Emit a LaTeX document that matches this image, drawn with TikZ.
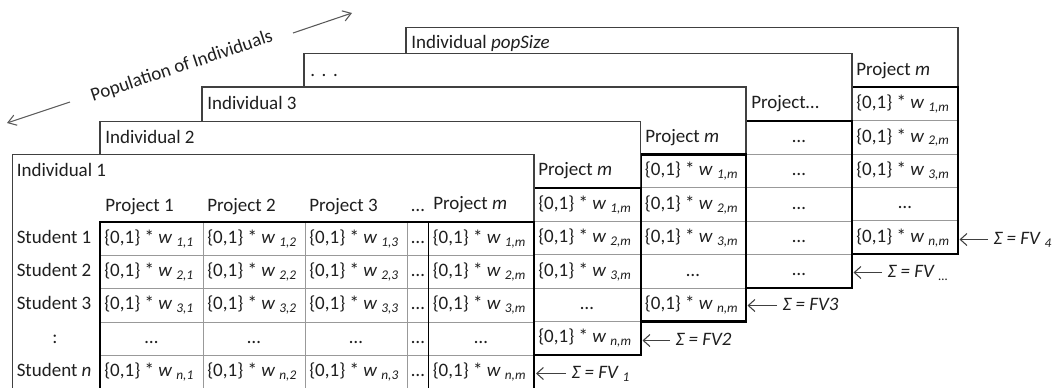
\documentclass[tikz,border=0pt]{standalone}
\usepackage{fontspec}
\setmainfont{Carlito}
\usetikzlibrary{arrows.meta}
\newcommand\wsub[1]{\textit{w}\hspace{0.22em}\textsubscript{\textit{#1}}}
\newcommand\cellw[1]{\{0,1\} * \wsub{#1}}
\newcommand\fvsub[1]{\textit{Σ = FV}\hspace{0.2em}\textsubscript{\textit{#1}}}
\begin{document}
\begin{tikzpicture}[x=0.75pt,y=-0.75pt,
  every node/.style={font=\fontsize{14.25pt}{17pt}\selectfont, inner sep=0pt,
    text height=10pt, text depth=3pt, text=black!88},
  lbl/.style={anchor=west},
  sumlbl/.style={anchor=west, inner xsep=4pt},
  frame/.style={draw=black!75, line width=0.8pt, fill=white},
  grid/.style={draw=black!40, line width=0.75pt},
  tbl/.style={draw=black, line width=1.6pt},
  sumarrow/.style={draw=black!75, line width=0.8pt, -{Straight Barb[length=5pt,width=9pt]}},
  poparrow/.style={draw=black!65, line width=0.8pt, -{Straight Barb[length=6pt,width=8pt]}}
]
\clip (0,0) rectangle (1053,387);

% ---- population label and arrows
\node[rotate=18.5] (pop) at (182,67) {Population of Individuals};
\coordinate (popLt) at (70,102);  \coordinate (popL) at (7,123);
\coordinate (popRt) at (293,33);  \coordinate (popR) at (352,13);
\draw[poparrow] (popLt) -- (popL);
\draw[poparrow] (popRt) -- (popR);

% ---- Layer 5: Individual popSize
\filldraw[frame] (406,27.3) rectangle (958,254.3);
\node[lbl] (i5) at (411,44) {Individual \textit{popSize}};
\node[lbl] (h5) at (856,70.5) {Project \textit{m}};
\foreach \y in {120.7,154.1,187.5,220.9} \draw[grid] (852,\y) -- (958,\y);
\draw[tbl] (852,87.3) rectangle (958,254.3);
\node[lbl] (e51) at (856,104) {\cellw{1,m}};
\node[lbl] (e52) at (856,137.4) {\cellw{2,m}};
\node[lbl] (e53) at (856,170.8) {\cellw{3,m}};
\node (e54) at (905,204.2) {…};
\node[lbl] (e55) at (856,237.6) {\cellw{n,m}};
\coordinate (t5) at (959.5,239.5);
\node[sumlbl] (f5) at (988,239.5) {\fvsub{4}};
\draw[sumarrow] (f5.west) -- (t5);

% ---- Layer 4: ...
\filldraw[frame] (304,53.5) rectangle (852,288);
\node[lbl] (i4) at (310,72) {.\hspace{0.35em}.\hspace{0.35em}.};
\node[lbl] (h4) at (751,104) {Project…};
\foreach \y in {154.4,187.8,221.2,254.6} \draw[grid] (746,\y) -- (852,\y);
\draw[tbl] (746,121) rectangle (852,288);
\node (e41) at (799,137.7) {…};
\node (e42) at (799,171.1) {…};
\node (e43) at (799,204.5) {…};
\node (e44) at (799,237.9) {…};
\node (e45) at (799,271.3) {…};
\coordinate (t4) at (853.5,272.5);
\node[sumlbl] (f4) at (882,272.5) {\fvsub{…}};
\draw[sumarrow] (f4.west) -- (t4);

% ---- Layer 3: Individual 3
\filldraw[frame] (202,87) rectangle (746,321.5);
\node[lbl] (i3) at (207,104.5) {Individual 3};
\node[lbl] (h3) at (645,137.5) {Project \textit{m}};
\foreach \y in {187.9,221.3,254.7,288.1} \draw[grid] (640.7,\y) -- (746,\y);
\draw[tbl] (640.7,154.5) rectangle (746,321.5);
\node[lbl] (e31) at (644.7,171.2) {\cellw{1,m}};
\node[lbl] (e32) at (644.7,204.6) {\cellw{2,m}};
\node[lbl] (e33) at (644.7,238) {\cellw{3,m}};
\node (e34) at (693,271.4) {…};
\node[lbl] (e35) at (644.7,304.8) {\cellw{n,m}};
\coordinate (t3) at (747.5,305.5);
\node[sumlbl] (f3) at (777,305.5) {\textit{Σ = FV3}};
\draw[sumarrow] (f3.west) -- (t3);

% ---- Layer 2: Individual 2
\filldraw[frame] (100,121.5) rectangle (640.7,355);
\node[lbl] (i2) at (105,138.5) {Individual 2};
\node[lbl] (h2) at (538,171) {Project \textit{m}};
\foreach \y in {221.4,254.8,288.2,321.6} \draw[grid] (534,\y) -- (640.7,\y);
\draw[tbl] (534,188) rectangle (640.7,355);
\node[lbl] (e21) at (538,204.7) {\cellw{1,m}};
\node[lbl] (e22) at (538,238.1) {\cellw{2,m}};
\node[lbl] (e23) at (538,271.5) {\cellw{3,m}};
\node (e24) at (587,304.9) {…};
\node[lbl] (e25) at (538,338.3) {\cellw{n,m}};
\coordinate (t2) at (642.5,340.5);
\node[sumlbl] (f2) at (670,340.5) {\textit{Σ = FV2}};
\draw[sumarrow] (f2.west) -- (t2);

% ---- Layer 1: Individual 1 (full table)
\filldraw[frame] (12.7,154.3) rectangle (534,388.8);
\node[lbl] (i1) at (16.5,172) {Individual 1};
\node[lbl] (p1) at (105,207) {Project 1};
\node[lbl] (p2) at (207,207) {Project 2};
\node[lbl] (p3) at (309,207) {Project 3};
\node (pd) at (418,207) {…};
\node[lbl] (pm) at (433,205) {Project \textit{m}};
\foreach \y in {255.2,288.6,322,355.4} \draw[grid] (100,\y) -- (534,\y);
\foreach \x in {203,305,407} \draw[grid] (\x,221.8) -- (\x,388.8);
\draw[draw=black, line width=1.1pt] (428.5,221.8) -- (428.5,388.8);
\draw[tbl] (100,221.8) rectangle (534,388.8);
% row 1
\node[lbl] (s1) at (16.5,238.5) {Student 1};
\node[lbl] (c11) at (104,238.5) {\cellw{1,1}};
\node[lbl] (c12) at (207,238.5) {\cellw{1,2}};
\node[lbl] (c13) at (309,238.5) {\cellw{1,3}};
\node (c1d) at (418,238.5) {…};
\node[lbl] (c1m) at (432.5,238.5) {\cellw{1,m}};
% row 2
\node[lbl] (s2) at (16.5,271.9) {Student 2};
\node[lbl] (c21) at (104,271.9) {\cellw{2,1}};
\node[lbl] (c22) at (207,271.9) {\cellw{2,2}};
\node[lbl] (c23) at (309,271.9) {\cellw{2,3}};
\node (c2d) at (418,271.9) {…};
\node[lbl] (c2m) at (432.5,271.9) {\cellw{2,m}};
% row 3
\node[lbl] (s3) at (16.5,305.3) {Student 3};
\node[lbl] (c31) at (104,305.3) {\cellw{3,1}};
\node[lbl] (c32) at (207,305.3) {\cellw{3,2}};
\node[lbl] (c33) at (309,305.3) {\cellw{3,3}};
\node (c3d) at (418,305.3) {…};
\node[lbl] (c3m) at (432.5,305.3) {\cellw{3,m}};
% row 4 (dots)
\node (s4) at (55,338.7) {:};
\node (c41) at (151.5,338.7) {…};
\node (c42) at (254,338.7) {…};
\node (c43) at (356,338.7) {…};
\node (c4d) at (418,338.7) {…};
\node (c4m) at (481,338.7) {…};
% row n
\node[lbl] (s5) at (16.5,372.1) {Student \textit{n}};
\node[lbl] (c51) at (104,372.1) {\cellw{n,1}};
\node[lbl] (c52) at (207,372.1) {\cellw{n,2}};
\node[lbl] (c53) at (309,372.1) {\cellw{n,3}};
\node (c5d) at (418,372.1) {…};
\node[lbl] (c5m) at (432.5,372.1) {\cellw{n,m}};
\coordinate (t1) at (536,373.5);
\node[sumlbl] (f1) at (566,373.5) {\fvsub{1}};
\draw[sumarrow] (f1.west) -- (t1);
\end{tikzpicture}
\end{document}
